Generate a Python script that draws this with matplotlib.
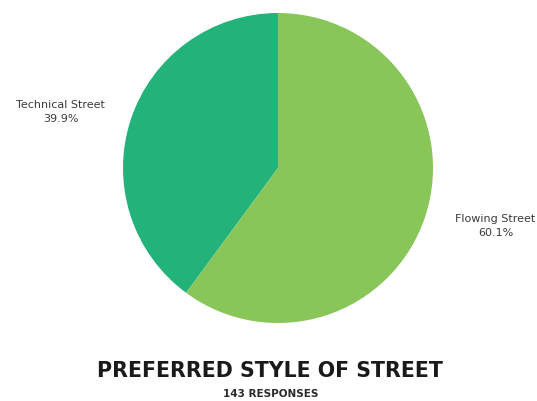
import numpy as np
import matplotlib
matplotlib.use("Agg")
import matplotlib.pyplot as plt

# data
categories = ["Technical Street", "Flowing Street"]
shares = [39.9, 60.1]
colors = ["#22b27a", "#88c65a"]
title = "PREFERRED STYLE OF STREET"
subtitle = "143 RESPONSES"

fig = plt.figure(figsize=(5.37, 4.02), dpi=100)
fig.patch.set_facecolor("white")

# pie axes: center ~ (278,169) px, radius ~155 px
W, H = 537, 402
cx, cy, r = 278, 169, 155
ax = fig.add_axes([(cx - r) / W, (H - cy - r) / H, 2 * r / W, 2 * r / H])
wedges, _ = ax.pie(shares, colors=colors, startangle=90, counterclock=True,
                   radius=1, wedgeprops=dict(linewidth=0))
ax.set_xlim(-1, 1)
ax.set_ylim(-1, 1)
ax.set_aspect("equal")
ax.axis("off")

# labels outside the slices
for w, name, val in zip(wedges, categories, shares):
    ang = np.deg2rad((w.theta1 + w.theta2) / 2 + 3.5)
    x, y = 1.45 * np.cos(ang), 1.45 * np.sin(ang)
    ax.text(x, y, f"{name}\n{val:.1f}%", ha="center", va="center",
            fontsize=8, color="#3a3a3a", family="DejaVu Sans",
            linespacing=1.4, clip_on=False)

fig.text(270 / W, 1 - 371 / H, title, ha="center", va="center",
         fontsize=14.8, fontweight="bold", family="DejaVu Sans", color="#1a1a1a")
fig.text(271 / W, 1 - 394 / H, subtitle, ha="center", va="center",
         fontsize=7.5, fontweight="bold", family="DejaVu Sans", color="#2a2a2a")

fig.savefig("out.png", dpi=100)
